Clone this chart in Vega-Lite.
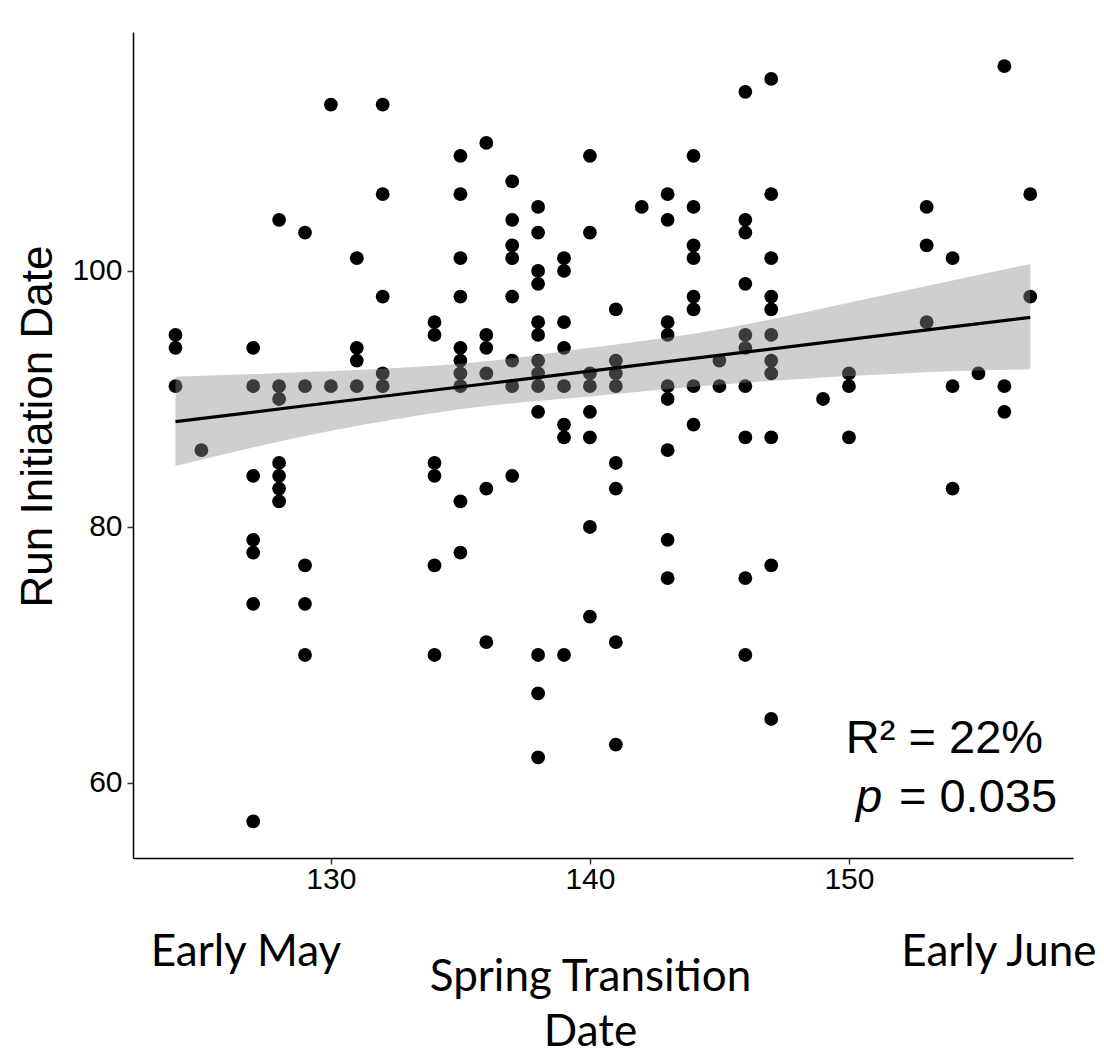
{
  "$schema": "https://vega.github.io/schema/vega-lite/v6.json",
  "width": 940,
  "height": 826,
  "autosize": {"type": "none"},
  "padding": {"left": 133, "top": 32, "right": 31, "bottom": 196},
  "background": "white",
  "config": {"view": {"stroke": null}, "axis": {"grid": false}},
  "datasets": {
    "points": [
      {"spring":124,"run":95},{"spring":124,"run":94},{"spring":124,"run":91},
      {"spring":125,"run":86},
      {"spring":127,"run":94},{"spring":127,"run":91},{"spring":127,"run":84},{"spring":127,"run":79},{"spring":127,"run":78},{"spring":127,"run":74},{"spring":127,"run":57},
      {"spring":128,"run":104},{"spring":128,"run":91},{"spring":128,"run":90},{"spring":128,"run":85},{"spring":128,"run":84},{"spring":128,"run":83},{"spring":128,"run":82},
      {"spring":129,"run":103},{"spring":129,"run":91},{"spring":129,"run":77},{"spring":129,"run":74},{"spring":129,"run":70},
      {"spring":130,"run":113},{"spring":130,"run":91},
      {"spring":131,"run":101},{"spring":131,"run":94},{"spring":131,"run":93},{"spring":131,"run":91},
      {"spring":132,"run":113},{"spring":132,"run":106},{"spring":132,"run":98},{"spring":132,"run":92},{"spring":132,"run":91},
      {"spring":134,"run":96},{"spring":134,"run":95},{"spring":134,"run":85},{"spring":134,"run":84},{"spring":134,"run":77},{"spring":134,"run":70},
      {"spring":135,"run":109},{"spring":135,"run":106},{"spring":135,"run":101},{"spring":135,"run":98},{"spring":135,"run":94},{"spring":135,"run":93},{"spring":135,"run":92},{"spring":135,"run":91},{"spring":135,"run":82},{"spring":135,"run":78},
      {"spring":136,"run":110},{"spring":136,"run":95},{"spring":136,"run":94},{"spring":136,"run":92},{"spring":136,"run":83},{"spring":136,"run":71},
      {"spring":137,"run":107},{"spring":137,"run":104},{"spring":137,"run":102},{"spring":137,"run":101},{"spring":137,"run":98},{"spring":137,"run":93},{"spring":137,"run":91},{"spring":137,"run":84},
      {"spring":138,"run":105},{"spring":138,"run":103},{"spring":138,"run":100},{"spring":138,"run":99},{"spring":138,"run":96},{"spring":138,"run":95},{"spring":138,"run":93},{"spring":138,"run":92},{"spring":138,"run":91},{"spring":138,"run":89},{"spring":138,"run":70},{"spring":138,"run":67},{"spring":138,"run":62},
      {"spring":139,"run":101},{"spring":139,"run":100},{"spring":139,"run":96},{"spring":139,"run":94},{"spring":139,"run":91},{"spring":139,"run":88},{"spring":139,"run":87},{"spring":139,"run":70},
      {"spring":140,"run":109},{"spring":140,"run":103},{"spring":140,"run":92},{"spring":140,"run":91},{"spring":140,"run":89},{"spring":140,"run":87},{"spring":140,"run":80},{"spring":140,"run":73},
      {"spring":141,"run":97},{"spring":141,"run":93},{"spring":141,"run":92},{"spring":141,"run":91},{"spring":141,"run":85},{"spring":141,"run":83},{"spring":141,"run":71},{"spring":141,"run":63},
      {"spring":142,"run":105},
      {"spring":143,"run":106},{"spring":143,"run":104},{"spring":143,"run":96},{"spring":143,"run":95},{"spring":143,"run":91},{"spring":143,"run":90},{"spring":143,"run":86},{"spring":143,"run":79},{"spring":143,"run":76},
      {"spring":144,"run":109},{"spring":144,"run":105},{"spring":144,"run":102},{"spring":144,"run":101},{"spring":144,"run":98},{"spring":144,"run":97},{"spring":144,"run":91},{"spring":144,"run":88},
      {"spring":145,"run":93},{"spring":145,"run":91},
      {"spring":146,"run":114},{"spring":146,"run":104},{"spring":146,"run":103},{"spring":146,"run":99},{"spring":146,"run":95},{"spring":146,"run":94},{"spring":146,"run":91},{"spring":146,"run":87},{"spring":146,"run":76},{"spring":146,"run":70},
      {"spring":147,"run":115},{"spring":147,"run":106},{"spring":147,"run":101},{"spring":147,"run":98},{"spring":147,"run":97},{"spring":147,"run":95},{"spring":147,"run":93},{"spring":147,"run":92},{"spring":147,"run":87},{"spring":147,"run":77},{"spring":147,"run":65},
      {"spring":149,"run":90},
      {"spring":150,"run":92},{"spring":150,"run":91},{"spring":150,"run":87},
      {"spring":153,"run":105},{"spring":153,"run":102},{"spring":153,"run":96},
      {"spring":154,"run":101},{"spring":154,"run":91},{"spring":154,"run":83},
      {"spring":155,"run":92},
      {"spring":156,"run":116},{"spring":156,"run":91},{"spring":156,"run":89},
      {"spring":157,"run":106},{"spring":157,"run":98}
    ],
    "band": [
      {"spring":124,"lower":84.77,"upper":91.74,"fit":88.23},
      {"spring":129,"lower":87.1,"upper":92.1,"fit":89.47},
      {"spring":136,"lower":89.45,"upper":92.95,"fit":91.19},
      {"spring":140,"lower":90.2,"upper":94.0,"fit":92.18},
      {"spring":144,"lower":90.95,"upper":95.1,"fit":93.17},
      {"spring":152,"lower":92.0,"upper":98.4,"fit":95.15},
      {"spring":157,"lower":92.32,"upper":100.55,"fit":96.38}
    ],
    "anno": [{}]
  },
  "layer": [
    {
      "data": {"name": "points"},
      "mark": {"type": "circle", "size": 190, "color": "black", "opacity": 1},
      "encoding": {
        "x": {
          "field": "spring", "type": "quantitative",
          "scale": {"domain": [122.36, 158.65], "nice": false, "zero": false},
          "axis": {
            "values": [130, 140, 150],
            "title": ["Spring Transition", "Date"],
            "titleFont": "Lato", "titleFontSize": 44, "titleFontWeight": "normal", "titleColor": "black",
            "titleX": 457, "titleY": 132, "titleBaseline": "alphabetic", "titleAlign": "center", "titleLineHeight": 55,
            "labelFont": "Liberation Sans", "labelFontSize": 30, "labelColor": "black", "labelPadding": 0,
            "labelFlush": false, "labelOverlap": false,
            "tickSize": 6, "tickColor": "#333333", "tickWidth": 1.5,
            "domainColor": "black", "domainWidth": 1.5
          }
        },
        "y": {
          "field": "run", "type": "quantitative",
          "scale": {"domain": [54.14, 118.67], "nice": false, "zero": false},
          "axis": {
            "values": [60, 80, 100],
            "title": "Run Initiation Date",
            "titleFont": "Liberation Sans", "titleFontSize": 44, "titleFontWeight": "normal", "titleColor": "black",
            "titleX": -82, "titleY": 394, "titleAngle": -90, "titleBaseline": "alphabetic", "titleAlign": "center",
            "labelFont": "Liberation Sans", "labelFontSize": 30, "labelColor": "black", "labelPadding": 5,
            "labelFlush": false, "labelOverlap": false,
            "tickSize": 6, "tickColor": "#333333", "tickWidth": 1.5,
            "domainColor": "black", "domainWidth": 1.5
          }
        }
      }
    },
    {
      "data": {"name": "band"},
      "mark": {"type": "area", "color": "#8c8c8c", "opacity": 0.42, "interpolate": "monotone"},
      "encoding": {
        "x": {"field": "spring", "type": "quantitative"},
        "y": {"field": "lower", "type": "quantitative"},
        "y2": {"field": "upper"}
      }
    },
    {
      "data": {"name": "band"},
      "mark": {"type": "line", "color": "black", "strokeWidth": 3.2},
      "encoding": {
        "x": {"field": "spring", "type": "quantitative"},
        "y": {"field": "fit", "type": "quantitative"}
      }
    },
    {
      "data": {"name": "anno"},
      "mark": {"type": "text", "font": "Liberation Sans", "fontSize": 47, "align": "left", "baseline": "alphabetic", "color": "black"},
      "encoding": {
        "x": {"datum": 149.88, "type": "quantitative"},
        "y": {"datum": 62.34, "type": "quantitative"},
        "text": {"value": "R² = 22%"}
      }
    },
    {
      "data": {"name": "anno"},
      "mark": {"type": "text", "font": "Liberation Sans", "fontSize": 47, "fontStyle": "italic", "align": "left", "baseline": "alphabetic", "color": "black"},
      "encoding": {
        "x": {"datum": 150.27, "type": "quantitative"},
        "y": {"datum": 57.73, "type": "quantitative"},
        "text": {"value": "p"}
      }
    },
    {
      "data": {"name": "anno"},
      "mark": {"type": "text", "font": "Liberation Sans", "fontSize": 47, "align": "left", "baseline": "alphabetic", "color": "black"},
      "encoding": {
        "x": {"datum": 151.93, "type": "quantitative"},
        "y": {"datum": 57.73, "type": "quantitative"},
        "text": {"value": "= 0.035"}
      }
    },
    {
      "data": {"name": "anno"},
      "mark": {"type": "text", "font": "Lato", "fontSize": 44, "align": "center", "baseline": "alphabetic", "color": "black"},
      "encoding": {
        "x": {"datum": 126.72, "type": "quantitative"},
        "y": {"datum": 45.7, "type": "quantitative"},
        "text": {"value": "Early May"}
      }
    },
    {
      "data": {"name": "anno"},
      "mark": {"type": "text", "font": "Lato", "fontSize": 44, "align": "center", "baseline": "alphabetic", "color": "black"},
      "encoding": {
        "x": {"datum": 155.79, "type": "quantitative"},
        "y": {"datum": 45.7, "type": "quantitative"},
        "text": {"value": "Early June"}
      }
    }
  ]
}
